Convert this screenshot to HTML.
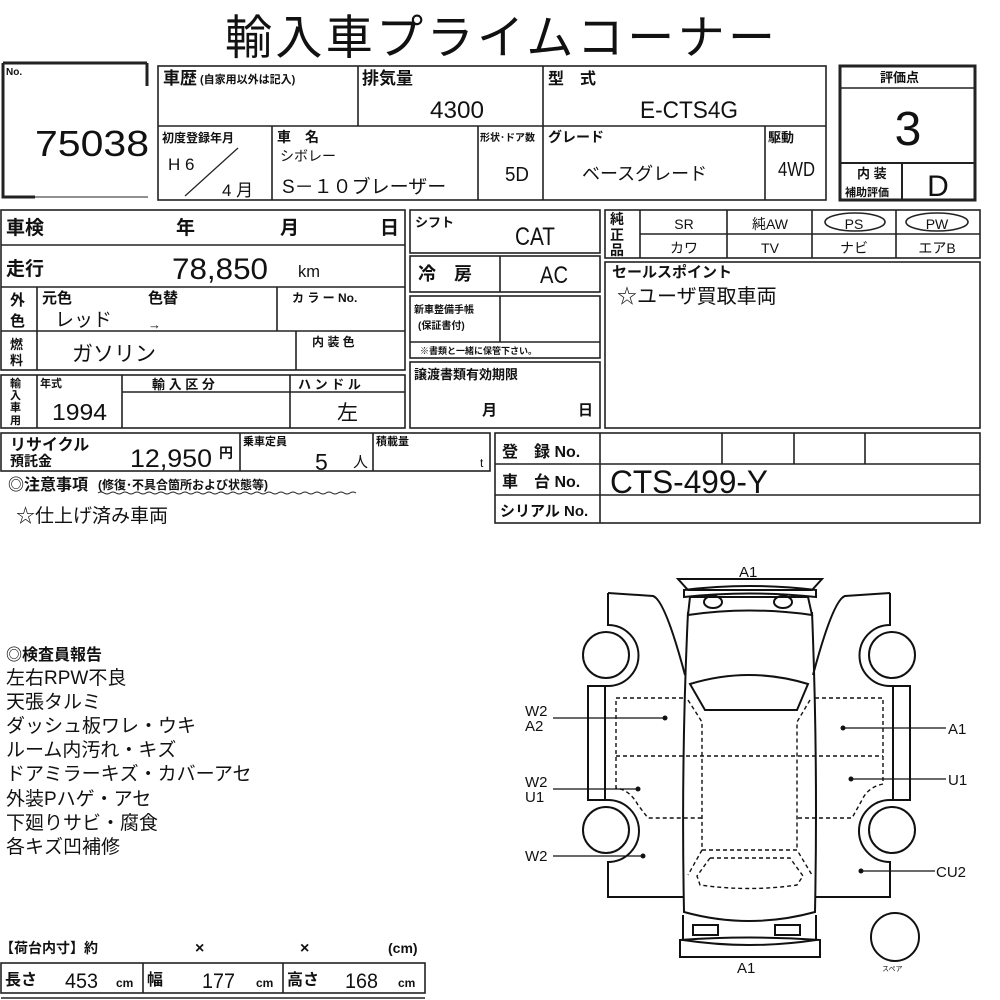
<!DOCTYPE html>
<html><head><meta charset="utf-8"><style>
html,body{margin:0;padding:0;background:#fff;}
svg{display:block}
text{font-family:"Liberation Sans","Noto Sans CJK JP",sans-serif;fill:#111}
.b{font-weight:bold}
</style></head><body>
<svg width="1000" height="1000" viewBox="0 0 1000 1000" xmlns="http://www.w3.org/2000/svg">
<g stroke="#222" stroke-width="1.6" fill="none">
<path d="M3,63 L147,63 M147,63 L147,86" stroke-width="3"/>
<path d="M3,63 L3,197 L35,197" stroke-width="3"/>
<path d="M35,197 L148,197" stroke-width="1"/>
<rect x="158" y="66" width="668" height="134"/>
<line x1="158" y1="126" x2="826" y2="126"/>
<line x1="358" y1="66" x2="358" y2="126"/>
<line x1="543" y1="66" x2="543" y2="200"/>
<line x1="272" y1="126" x2="272" y2="200"/>
<line x1="478" y1="126" x2="478" y2="200"/>
<line x1="765" y1="126" x2="765" y2="200"/>
<line x1="185" y1="196" x2="238" y2="148" stroke-width="1.2"/>
<rect x="840" y="66" width="135" height="134" stroke-width="3"/>
<line x1="840" y1="88" x2="975" y2="88"/>
<line x1="840" y1="163" x2="975" y2="163" stroke-width="2"/>
<line x1="902" y1="163" x2="902" y2="200" stroke-width="2"/>
<rect x="1" y="210" width="404" height="160"/>
<line x1="1" y1="245" x2="405" y2="245"/>
<line x1="1" y1="287" x2="405" y2="287"/>
<line x1="1" y1="331" x2="405" y2="331"/>
<line x1="37" y1="287" x2="37" y2="370"/>
<line x1="277" y1="287" x2="277" y2="331"/>
<line x1="296" y1="331" x2="296" y2="370"/>
<rect x="1" y="375" width="404" height="53"/>
<line x1="37" y1="375" x2="37" y2="428"/>
<line x1="122" y1="375" x2="122" y2="428"/>
<line x1="290" y1="375" x2="290" y2="428"/>
<line x1="122" y1="392" x2="405" y2="392"/>
<rect x="1" y="433" width="489" height="38"/>
<line x1="240" y1="433" x2="240" y2="471"/>
<line x1="373" y1="433" x2="373" y2="471"/>
<rect x="410" y="210" width="190" height="43"/>
<rect x="410" y="256" width="190" height="36"/>
<line x1="500" y1="256" x2="500" y2="292"/>
<rect x="410" y="296" width="190" height="62"/>
<line x1="410" y1="342" x2="600" y2="342"/>
<line x1="500" y1="296" x2="500" y2="342"/>
<rect x="410" y="362" width="190" height="66"/>
<rect x="605" y="210" width="375" height="48"/>
<line x1="640" y1="234" x2="980" y2="234"/>
<line x1="640" y1="210" x2="640" y2="258"/>
<line x1="727" y1="210" x2="727" y2="258"/>
<line x1="812" y1="210" x2="812" y2="258"/>
<line x1="896" y1="210" x2="896" y2="258"/>
<ellipse cx="855" cy="222" rx="30" ry="9"/>
<ellipse cx="937" cy="222" rx="31" ry="9"/>
<rect x="605" y="262" width="375" height="166"/>
<rect x="495" y="433" width="485" height="90"/>
<line x1="495" y1="464" x2="980" y2="464"/>
<line x1="495" y1="495" x2="980" y2="495"/>
<line x1="600" y1="433" x2="600" y2="523"/>
<line x1="722" y1="433" x2="722" y2="464"/>
<line x1="794" y1="433" x2="794" y2="464"/>
<line x1="865" y1="433" x2="865" y2="464"/>
<path d="M98,493 q3,-2 6,0 t6,0 t6,0 t6,0 t6,0 t6,0 t6,0 t6,0 t6,0 t6,0 t6,0 t6,0 t6,0 t6,0 t6,0 t6,0 t6,0 t6,0 t6,0 t6,0 t6,0 t6,0 t6,0 t6,0 t6,0 t6,0 t6,0 t6,0 t6,0 t6,0 t6,0 t6,0 t6,0 t6,0 t6,0 t6,0 t6,0 t6,0 t6,0 t6,0 t6,0 t6,0 t6,0" stroke-width="1"/>
<rect x="1" y="963" width="424" height="30"/>
<line x1="143" y1="963" x2="143" y2="993"/>
<line x1="283" y1="963" x2="283" y2="993"/>
<line x1="1" y1="998" x2="425" y2="998"/>
</g>

<g stroke="#111" stroke-width="2" fill="none">
<path d="M678,579 L822,579 L812,590 L688,590 Z"/>
<path d="M684,590 Q749,582 816,590 L816,597 Q749,590 684,597 Z"/>
<path d="M690,597 L808,597 L812,615 Q749,606 688,615 Z"/>
<ellipse cx="713" cy="602" rx="9" ry="6"/>
<ellipse cx="783" cy="602" rx="9" ry="6"/>
<path d="M688,612 Q681,760 684,912 Q749,930 815,912 Q818,760 812,612"/>
<path d="M690,684 Q749,666 808,684 L797,710 L705,710 Z"/>
<rect x="693" y="925" width="25" height="10"/>
<rect x="775" y="925" width="25" height="10"/>
<path d="M683,915 L683,940 Q749,950 816,940 L816,915"/>
<path d="M680,940 Q749,935 820,940 L820,957 L680,957 Z"/>
<path d="M608,593 L653,596 Q665,600 685,675 M608,593 L608,625 A30,30 0 0 1 608,686 L605,686 L605,800 L608,800 A30,30 0 0 1 608,862 L608,897 L683,897"/>
<rect x="588" y="686" width="17" height="114"/>
<circle cx="606" cy="655" r="23"/>
<circle cx="606" cy="830" r="23"/>
<path d="M890,593 L845,596 Q833,600 813,675 M890,593 L890,625 A30,30 0 0 0 890,686 L893,686 L893,800 L890,800 A30,30 0 0 0 890,862 L890,897 L815,897"/>
<rect x="893" y="686" width="17" height="114"/>
<circle cx="892" cy="655" r="23"/>
<circle cx="892" cy="830" r="23"/>
<circle cx="895" cy="937" r="24"/>
</g>
<g stroke="#111" stroke-width="1.4" fill="none" stroke-dasharray="4,3">
<path d="M683,698 L616,698 L616,788 Q630,790 638,805 L648,818 L702,818"/>
<line x1="616" y1="756" x2="883" y2="756"/>
<path d="M815,698 L883,698 L883,784 Q868,787 862,800 L852,818 L797,818"/>
<path d="M688,700 L702,722 L702,850 M810,700 L797,722 L797,850"/>
<path d="M702,850 L797,850 L812,875 M702,850 L688,875"/>
<path d="M710,858 L790,858 L803,876 L797,885 Q749,892 700,885 L697,876 Z"/>
</g>
<g stroke="#111" stroke-width="1.3">
<line x1="553" y1="718" x2="665" y2="718"/>
<line x1="843" y1="728" x2="946" y2="728"/>
<line x1="553" y1="789" x2="638" y2="789"/>
<line x1="851" y1="779" x2="946" y2="779"/>
<line x1="553" y1="856" x2="643" y2="856"/>
<line x1="861" y1="871" x2="935" y2="871"/>
</g>
<g fill="#111">
<circle cx="665" cy="718" r="2.5"/><circle cx="843" cy="728" r="2.5"/>
<circle cx="638" cy="789" r="2.5"/><circle cx="851" cy="779" r="2.5"/>
<circle cx="643" cy="856" r="2.5"/><circle cx="861" cy="871" r="2.5"/>
</g>
<g font-size="15">
<text x="739" y="577">A1</text>
<text x="737" y="973">A1</text>
<text x="525" y="716">W2</text><text x="525" y="731">A2</text>
<text x="948" y="734">A1</text>
<text x="525" y="787">W2</text><text x="525" y="802">U1</text>
<text x="948" y="785">U1</text>
<text x="525" y="861">W2</text>
<text x="936" y="877">CU2</text>
<text x="882" y="971" font-size="7">スペア</text>
</g>

<text x="500" y="54" font-size="47" text-anchor="middle" textLength="550">輸入車プライムコーナー</text>
<text x="6" y="75" font-size="10" class="b">No.</text>
<text x="35" y="156" font-size="36" textLength="114" lengthAdjust="spacingAndGlyphs">75038</text>
<text x="163" y="84" font-size="17" class="b">車歴</text>
<text x="200" y="83" font-size="11" class="b">(自家用以外は記入)</text>
<text x="362" y="84" font-size="17" class="b">排気量</text>
<text x="430" y="118" font-size="24" textLength="54" lengthAdjust="spacingAndGlyphs">4300</text>
<text x="548" y="84" font-size="16" class="b">型　式</text>
<text x="640" y="118" font-size="24" textLength="98" lengthAdjust="spacingAndGlyphs">E-CTS4G</text>
<text x="162" y="142" font-size="12" class="b">初度登録年月</text>
<text x="168" y="170" font-size="17">H 6</text>
<text x="222" y="196" font-size="17">4 月</text>
<text x="277" y="142" font-size="14" class="b">車　名</text>
<text x="280" y="161" font-size="14">シボレー</text>
<text x="282" y="193" font-size="19">S－１０ブレーザー</text>
<text x="480" y="141" font-size="10" class="b">形状･ドア数</text>
<text x="505" y="181" font-size="20" textLength="24" lengthAdjust="spacingAndGlyphs">5D</text>
<text x="548" y="142" font-size="14" class="b">グレード</text>
<text x="582" y="180" font-size="18">ベースグレード</text>
<text x="768" y="142" font-size="13" class="b">駆動</text>
<text x="778" y="176" font-size="20" textLength="37" lengthAdjust="spacingAndGlyphs">4WD</text>
<text x="880" y="82" font-size="13" class="b">評価点</text>
<text x="908" y="145" font-size="48" text-anchor="middle">3</text>
<text x="857" y="178" font-size="13" class="b">内 装</text>
<text x="845" y="196" font-size="11" class="b">補助評価</text>
<text x="938" y="196" font-size="30" text-anchor="middle">D</text>

<text x="6" y="234" font-size="19" class="b">車検</text>
<text x="176" y="234" font-size="19" class="b">年</text>
<text x="280" y="234" font-size="19" class="b">月</text>
<text x="380" y="234" font-size="19" class="b">日</text>
<text x="6" y="275" font-size="19" class="b">走行</text>
<text x="172" y="279" font-size="30" textLength="96" lengthAdjust="spacingAndGlyphs">78,850</text>
<text x="298" y="277" font-size="17" textLength="22" lengthAdjust="spacingAndGlyphs">km</text>
<text x="10" y="305" font-size="15" class="b">外</text><text x="10" y="326" font-size="15" class="b">色</text>
<text x="42" y="303" font-size="15" class="b">元色</text>
<text x="148" y="303" font-size="15" class="b">色替</text>
<text x="55" y="326" font-size="19">レッド</text>
<text x="148" y="329" font-size="13">→</text>
<text x="292" y="302" font-size="12" class="b">カ ラ ー No.</text>
<text x="10" y="349" font-size="13" class="b">燃</text><text x="10" y="365" font-size="13" class="b">料</text>
<text x="72" y="361" font-size="21">ガソリン</text>
<text x="312" y="346" font-size="12" class="b">内 装 色</text>
<text x="10" y="387" font-size="11" class="b">輸</text><text x="10" y="399" font-size="11" class="b">入</text><text x="10" y="411" font-size="11" class="b">車</text><text x="10" y="424" font-size="11" class="b">用</text>
<text x="40" y="387" font-size="11" class="b">年式</text>
<text x="52" y="420" font-size="23" textLength="55" lengthAdjust="spacingAndGlyphs">1994</text>
<text x="152" y="389" font-size="13" class="b">輸 入 区 分</text>
<text x="298" y="389" font-size="13" class="b">ハ ン ド ル</text>
<text x="337" y="420" font-size="21">左</text>
<text x="10" y="450" font-size="16" class="b">リサイクル</text>
<text x="10" y="466" font-size="14" class="b">預託金</text>
<text x="130" y="467" font-size="25" textLength="82" lengthAdjust="spacingAndGlyphs">12,950</text>
<text x="219" y="458" font-size="14" class="b">円</text>
<text x="243" y="445" font-size="11" class="b">乗車定員</text>
<text x="315" y="470" font-size="23">5</text>
<text x="353" y="467" font-size="15">人</text>
<text x="376" y="445" font-size="11" class="b">積載量</text>
<text x="480" y="467" font-size="12">t</text>
<text x="8" y="490" font-size="16" class="b">◎注意事項</text>
<text x="98" y="489" font-size="12" class="b">(修復･不具合箇所および状態等)</text>
<text x="16" y="522" font-size="19">☆仕上げ済み車両</text>

<text x="415" y="227" font-size="13" class="b">シフト</text>
<text x="515" y="245" font-size="25" textLength="40" lengthAdjust="spacingAndGlyphs">CAT</text>
<text x="418" y="280" font-size="18" class="b">冷　房</text>
<text x="540" y="283" font-size="24" textLength="28" lengthAdjust="spacingAndGlyphs">AC</text>
<text x="414" y="313" font-size="10" class="b">新車整備手帳</text>
<text x="418" y="329" font-size="10" class="b">(保証書付)</text>
<text x="420" y="354" font-size="9" class="b">※書類と一緒に保管下さい。</text>
<text x="414" y="379" font-size="13" class="b">譲渡書類有効期限</text>
<text x="482" y="415" font-size="15" class="b">月</text>
<text x="578" y="415" font-size="15" class="b">日</text>

<text x="610" y="224" font-size="14" class="b">純</text><text x="610" y="240" font-size="14" class="b">正</text><text x="610" y="255" font-size="14" class="b">品</text>
<text x="684" y="229" font-size="14" text-anchor="middle">SR</text>
<text x="770" y="229" font-size="14" text-anchor="middle">純AW</text>
<text x="854" y="229" font-size="14" text-anchor="middle">PS</text>
<text x="937" y="229" font-size="14" text-anchor="middle">PW</text>
<text x="684" y="253" font-size="14" text-anchor="middle">カワ</text>
<text x="770" y="253" font-size="14" text-anchor="middle">TV</text>
<text x="854" y="253" font-size="14" text-anchor="middle">ナビ</text>
<text x="937" y="253" font-size="14" text-anchor="middle">エアB</text>
<text x="612" y="277" font-size="15" class="b">セールスポイント</text>
<text x="617" y="303" font-size="20">☆ユーザ買取車両</text>

<text x="502" y="457" font-size="16" class="b">登　録 No.</text>
<text x="502" y="487" font-size="16" class="b">車　台 No.</text>
<text x="500" y="516" font-size="15" class="b">シリアル No.</text>
<text x="610" y="493" font-size="32" textLength="158" lengthAdjust="spacingAndGlyphs">CTS-499-Y</text>

<text x="6" y="660" font-size="16" class="b">◎検査員報告</text>
<g font-size="19">
<text x="6" y="684">左右RPW不良</text>
<text x="6" y="708">天張タルミ</text>
<text x="6" y="732">ダッシュ板ワレ・ウキ</text>
<text x="6" y="756">ルーム内汚れ・キズ</text>
<text x="6" y="780">ドアミラーキズ・カバーアセ</text>
<text x="6" y="805">外装Pハゲ・アセ</text>
<text x="6" y="829">下廻りサビ・腐食</text>
<text x="6" y="853">各キズ凹補修</text>
</g>
<text x="0" y="953" font-size="14" class="b">【荷台内寸】約</text>
<text x="195" y="953" font-size="16" class="b">×</text>
<text x="300" y="953" font-size="16" class="b">×</text>
<text x="388" y="953" font-size="14" class="b">(cm)</text>
<text x="5" y="985" font-size="16" class="b">長さ</text>
<text x="65" y="988" font-size="21" textLength="33" lengthAdjust="spacingAndGlyphs">453</text>
<text x="116" y="987" font-size="12" class="b">cm</text>
<text x="147" y="985" font-size="16" class="b">幅</text>
<text x="202" y="988" font-size="21" textLength="33" lengthAdjust="spacingAndGlyphs">177</text>
<text x="256" y="987" font-size="12" class="b">cm</text>
<text x="287" y="985" font-size="16" class="b">高さ</text>
<text x="345" y="988" font-size="21" textLength="33" lengthAdjust="spacingAndGlyphs">168</text>
<text x="398" y="987" font-size="12" class="b">cm</text>
</svg>
</body></html>
